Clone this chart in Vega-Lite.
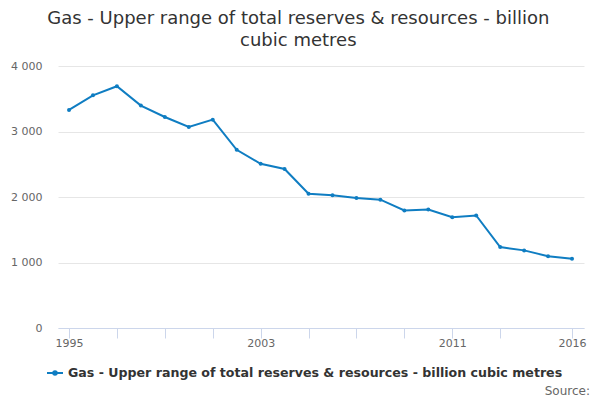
{
  "$schema": "https://vega.github.io/schema/vega-lite/v6.json",
  "padding": {"left": 10, "top": 10, "right": 5, "bottom": 0},
  "background": "white",
  "config": {
    "font": "DejaVu Sans",
    "view": {"stroke": null},
    "title": {"font": "DejaVu Sans", "fontWeight": "normal"}
  },
  "title": {
    "text": "Source:",
    "orient": "bottom",
    "anchor": "end",
    "fontSize": 12,
    "color": "#666666",
    "offset": 6,
    "dx": 4
  },
  "resolve": {"legend": {"color": "independent"}},
  "vconcat": [
    {
      "width": 526,
      "height": 262,
      "title": {
        "text": ["Gas - Upper range of total reserves & resources - billion", "cubic metres"],
        "anchor": "middle",
        "frame": "bounds",
        "fontSize": 18,
        "lineHeight": 22,
        "color": "#333333",
        "offset": 10
      },
      "data": {
        "values": [
          {"year": 1995, "value": 3330, "series": "Gas - Upper range of total reserves & resources - billion cubic metres"},
          {"year": 1996, "value": 3553, "series": "Gas - Upper range of total reserves & resources - billion cubic metres"},
          {"year": 1997, "value": 3691, "series": "Gas - Upper range of total reserves & resources - billion cubic metres"},
          {"year": 1998, "value": 3396, "series": "Gas - Upper range of total reserves & resources - billion cubic metres"},
          {"year": 1999, "value": 3221, "series": "Gas - Upper range of total reserves & resources - billion cubic metres"},
          {"year": 2000, "value": 3068, "series": "Gas - Upper range of total reserves & resources - billion cubic metres"},
          {"year": 2001, "value": 3181, "series": "Gas - Upper range of total reserves & resources - billion cubic metres"},
          {"year": 2002, "value": 2721, "series": "Gas - Upper range of total reserves & resources - billion cubic metres"},
          {"year": 2003, "value": 2507, "series": "Gas - Upper range of total reserves & resources - billion cubic metres"},
          {"year": 2004, "value": 2428, "series": "Gas - Upper range of total reserves & resources - billion cubic metres"},
          {"year": 2005, "value": 2051, "series": "Gas - Upper range of total reserves & resources - billion cubic metres"},
          {"year": 2006, "value": 2025, "series": "Gas - Upper range of total reserves & resources - billion cubic metres"},
          {"year": 2007, "value": 1985, "series": "Gas - Upper range of total reserves & resources - billion cubic metres"},
          {"year": 2008, "value": 1959, "series": "Gas - Upper range of total reserves & resources - billion cubic metres"},
          {"year": 2009, "value": 1795, "series": "Gas - Upper range of total reserves & resources - billion cubic metres"},
          {"year": 2010, "value": 1810, "series": "Gas - Upper range of total reserves & resources - billion cubic metres"},
          {"year": 2011, "value": 1692, "series": "Gas - Upper range of total reserves & resources - billion cubic metres"},
          {"year": 2012, "value": 1718, "series": "Gas - Upper range of total reserves & resources - billion cubic metres"},
          {"year": 2013, "value": 1236, "series": "Gas - Upper range of total reserves & resources - billion cubic metres"},
          {"year": 2014, "value": 1185, "series": "Gas - Upper range of total reserves & resources - billion cubic metres"},
          {"year": 2015, "value": 1097, "series": "Gas - Upper range of total reserves & resources - billion cubic metres"},
          {"year": 2016, "value": 1056, "series": "Gas - Upper range of total reserves & resources - billion cubic metres"}
        ]
      },
      "mark": {
        "type": "line",
        "strokeWidth": 2,
        "point": {"filled": true, "size": 16}
      },
      "encoding": {
        "x": {
          "field": "year",
          "type": "quantitative",
          "scale": {"domain": [1994.54, 2016.5], "nice": false, "zero": false},
          "axis": {
            "title": null,
            "grid": false,
            "values": [1995, 1997, 1999, 2001, 2003, 2005, 2007, 2009, 2011, 2013, 2016],
            "labelExpr": "indexof([1995, 2003, 2011, 2016], datum.value) >= 0 ? datum.value + '' : ''",
            "domainColor": "#ccd6eb",
            "tickColor": "#ccd6eb",
            "tickSize": 10,
            "labelPadding": -1,
            "labelColor": "#666666",
            "labelFontSize": 11,
            "labelFlush": false,
            "labelOverlap": false
          }
        },
        "y": {
          "field": "value",
          "type": "quantitative",
          "scale": {"domain": [0, 4000], "nice": false},
          "axis": {
            "title": null,
            "values": [0, 1000, 2000, 3000, 4000],
            "labelExpr": "replace(format(datum.value, ','), ',', ' ')",
            "domain": false,
            "ticks": false,
            "gridColor": "#e6e6e6",
            "labelPadding": 16,
            "labelColor": "#666666",
            "labelFontSize": 11
          }
        },
        "color": {
          "field": "series",
          "type": "nominal",
          "scale": {"range": ["#0f7dc2"]},
          "legend": {
            "title": null,
            "orient": "none",
            "legendX": -12,
            "legendY": 298,
            "direction": "horizontal",
            "labelFontSize": 12.6,
            "labelFontWeight": "bold",
            "labelColor": "#333333",
            "labelLimit": 1000,
            "symbolType": "M-1,0L1,0M-0.22,0A0.22,0.22,0,1,1,0.22,0A0.22,0.22,0,1,1,-0.22,0Z",
            "symbolSize": 256,
            "symbolStrokeWidth": 2,
            "symbolFillColor": "#0f7dc2"
          }
        }
      }
    }
  ]
}
